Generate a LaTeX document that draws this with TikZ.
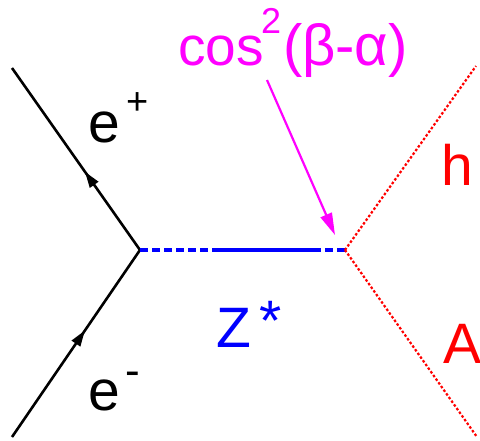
\documentclass[tikz,border=0pt]{standalone}
\usepackage{fontspec}
\setmainfont{Liberation Sans}
\usetikzlibrary{arrows.meta,decorations.markings}
\definecolor{mag}{RGB}{255,0,255}
\definecolor{zblue}{RGB}{0,0,255}
\definecolor{hred}{RGB}{255,0,0}
\begin{document}
\begin{tikzpicture}[x=1pt,y=-1pt,
  big/.style={inner sep=0pt,outer sep=0pt,anchor=base west,font=\fontsize{57}{57}\selectfont},
  small/.style={inner sep=0pt,outer sep=0pt,anchor=base west,font=\fontsize{38}{38}\selectfont},
  fermion/.style={draw=black,line width=2.6pt,postaction={decorate},
    decoration={markings,mark=at position #1 with {\arrow{Triangle[length=16pt,width=10pt]}}}},
  zline/.style={draw=zblue,line width=4pt},
  zdash/.style={zline,dash pattern=on 8pt off 4pt},
  higgs/.style={draw=hred,line width=2.2pt,dash pattern=on 2.5pt off 2pt},
  pointer/.style={draw=mag,line width=2.2pt,-{Triangle[length=22pt,width=12pt]}}
]
\useasboundingbox (0,0) rectangle (480,440);
\coordinate (ep) at (12,68);
\coordinate (em) at (12,437);
\coordinate (v1) at (140,250);
\coordinate (v2) at (345,250);
\coordinate (za) at (213,250);
\coordinate (zb) at (313,250);
\coordinate (hh) at (476,66);
\coordinate (aa) at (477,437);
\coordinate (ptail) at (267,80);
\coordinate (ptip) at (335,235);

% fermion lines
\path[fermion=0.43] (v1) -- (ep);
\path[fermion=0.57] (em) -- (v1);

% Z* propagator
\draw[zdash] (v1) -- (za);
\draw[zline] (za) -- (zb);
\draw[zdash] (zb) -- (v2);

% outgoing h and A
\draw[higgs] (v2) -- (hh);
\draw[higgs] (v2) -- (aa);

% coupling pointer
\draw[pointer] (ptail) -- (ptip);

% labels
\node[big] (lep) at (88,142) {e};
\node[small] (lepp) at (126,114) {+};
\node[big] (lem) at (88,410) {e};
\node[small,font=\fontsize{44}{44}\selectfont] (lemm) at (125,385) {-};
\node[big,text=hred] (lh) at (441,185) {h};
\node[big,text=hred] (la) at (443,363) {A};
\node[big,text=zblue] (lz) at (216,347) {Z};
\node[big,text=zblue] (lzs) at (259,340) {*};
\node[big,text=mag,font=\fontsize{55}{55}\selectfont] (lcos) at (178,65) {cos};
\node[small,text=mag,font=\fontsize{36}{36}\selectfont] (ltwo) at (261,33) {2};
\node[big,text=mag,font=\fontsize{58}{58}\selectfont] (lba) at (283,65) {(β-α)};
\end{tikzpicture}
\end{document}
